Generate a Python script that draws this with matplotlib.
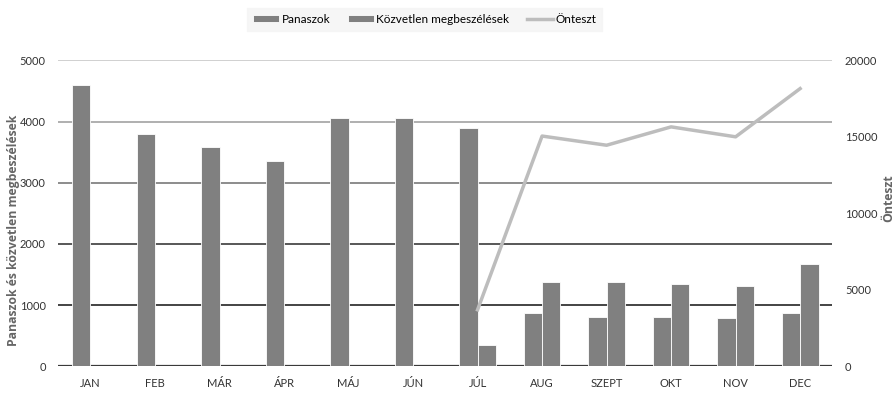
import matplotlib.pyplot as plt
import numpy as np

plt.rcParams['font.family'] = ['Lato', 'DejaVu Sans']

months = ['JAN', 'FEB', 'MÁR', 'ÁPR', 'MÁJ', 'JÚN', 'JÚL', 'AUG', 'SZEPT', 'OKT', 'NOV', 'DEC']
panaszok = [4600, 3800, 3590, 3350, 4060, 4060, 3900, 880, 815, 815, 795, 880]
megbeszelesek = [0, 0, 0, 0, 0, 0, 345, 1385, 1385, 1350, 1310, 1670]
onteszt = [None, None, None, None, None, None, 3700, 15050, 14450, 15650, 15000, 18150]

grid_colors = ['#3a3a3a', '#111111', '#2a2a2a', '#6e6e6e', '#9a9a9a', '#c4c4c4']

fig = plt.figure(figsize=(8.96, 3.94), dpi=100)
ax = fig.add_axes([0.065, 0.07, 0.864, 0.777])
ax2 = ax.twinx()

x = np.arange(len(months))
w = 0.285
bar_color = '#808080'
ax.bar(x - w / 2, panaszok, w, color=bar_color, edgecolor='white', linewidth=0.6,
       label='Panaszok', zorder=3)
ax.bar(x + w / 2, megbeszelesek, w, color=bar_color, edgecolor='white', linewidth=0.6,
       label='Közvetlen megbeszélések', zorder=3)

line_x = [i for i, v in enumerate(onteszt) if v is not None]
line_y = [v for v in onteszt if v is not None]
ax2.plot(line_x, line_y, color='#bdbdbd', linewidth=2.5, label='Önteszt', zorder=4)

ax.set_xlim(-0.5, len(months) - 0.5)
ax.set_ylim(0, 5000)
ax2.set_ylim(0, 20000)
ax.set_yticks(range(0, 5001, 1000))
ax2.set_yticks(range(0, 20001, 5000))
ax.set_xticks(x)
ax.set_xticklabels(months)

for i, yv in enumerate(range(0, 5001, 1000)):
    ax.axhline(yv, color=grid_colors[i], linewidth=1.6 if yv == 0 else 1.1, zorder=1)

for a in (ax, ax2):
    for s in a.spines.values():
        s.set_visible(False)
    a.tick_params(length=0, labelsize=8, colors='#333333')
ax.tick_params(axis='y', pad=9)
ax2.tick_params(axis='y', pad=9)
ax.tick_params(axis='x', pad=8)
ax.patch.set_visible(False)
ax2.patch.set_visible(False)
ax.set_zorder(1)
ax2.set_zorder(2)

ax.set_ylabel('Panaszok és közvetlen megbeszélések', fontsize=8.8, color='#666666',
              fontweight='bold', family=['Open Sans', 'DejaVu Sans'])
ax.yaxis.set_label_coords(-0.05, 0.446)
ax2.set_ylabel('Önteszt', fontsize=8.8, color='#666666', fontweight='bold',
               family=['Open Sans', 'DejaVu Sans'], rotation=90)
ax2.yaxis.set_label_coords(1.064, 0.55)

h1, l1 = ax.get_legend_handles_labels()
h2, l2 = ax2.get_legend_handles_labels()
leg = fig.legend(h1 + h2, l1 + l2, loc='upper center', bbox_to_anchor=(0.474, 0.995),
                 ncol=3, frameon=True, fontsize=8.5, handlelength=2.2, handleheight=0.6,
                 columnspacing=1.5, handletextpad=0.2, borderpad=0.5, fancybox=False)
leg.get_frame().set_facecolor('#f4f4f4')
leg.get_frame().set_edgecolor('#f4f4f4')

fig.savefig('out.png', dpi=100)
